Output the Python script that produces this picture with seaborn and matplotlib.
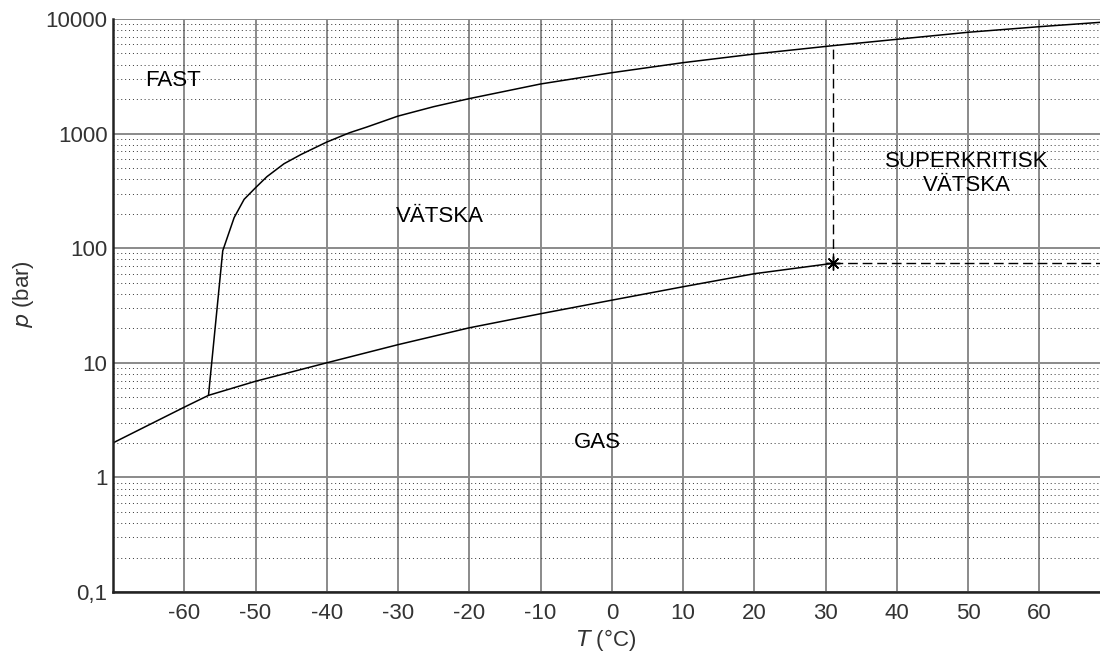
import numpy as np
import pandas as pd
import seaborn as sns
import matplotlib
matplotlib.use("Agg")
import matplotlib.pyplot as plt
from matplotlib.ticker import FixedLocator, NullLocator, LogLocator

# sublimationskurva (fast - gas)
sub_T = [-70.0, -60.0, -56.6]
sub_p = [2.0, 4.1, 5.2]

# ångtryckskurva (vätska - gas), slutar i kritiska punkten
vap_T = [-56.6, -50.0, -40.0, -30.0, -20.0, -10.0, 0.0, 10.0, 20.0, 31.0]
vap_p = [5.2, 6.9, 10.0, 14.4, 20.2, 26.8, 35.2, 46.1, 59.9, 73.8]

# smältkurva (fast - vätska)
melt_T = [-56.6, -54.6, -53.0, -51.6, -50.0, -48.4, -46.0, -43.6, -40.0, -36.8,
          -34.4, -30.0, -25.0, -20.0, -10.0, 0.0, 10.0, 20.0, 31.0, 40.0,
          50.0, 60.0, 68.5]
melt_p = [5.2, 95, 185, 267, 337, 421, 546, 658, 844, 1018,
          1140, 1422, 1718, 2020, 2710, 3400, 4160, 4950, 5850, 6650,
          7660, 8570, 9350]

# kritisk punkt
crit_T = 31.0
crit_p = 73.8

x_ticks = [-60, -50, -40, -30, -20, -10, 0, 10, 20, 30, 40, 50, 60]
y_ticks = [0.1, 1, 10, 100, 1000, 10000]
y_ticklabels = ["0,1", "1", "10", "100", "1000", "10000"]

sns.set_theme(style="white")
plt.rcParams['font.family'] = ['Liberation Sans', 'DejaVu Sans']

fig = plt.figure(figsize=(11, 6.64), dpi=100)
ax = fig.add_axes([113 / 1100, 72 / 664, 1 - 113 / 1100, (592 - 19) / 664])

ax.set_yscale("log")
ax.set_xlim(-70, 68.5)
ax.set_ylim(0.1, 10000)

# rutnät
ax.xaxis.set_major_locator(FixedLocator(x_ticks))
ax.xaxis.set_minor_locator(NullLocator())
ax.yaxis.set_major_locator(FixedLocator(y_ticks))
ax.yaxis.set_minor_locator(LogLocator(base=10, subs=np.arange(2, 10)))
ax.grid(True, which="major", color="#8a8a8a", linewidth=1.4)
ax.grid(True, which="minor", axis="y", color="#333333", linewidth=0.7,
        linestyle=(0, (1, 3)))
ax.set_axisbelow(True)

line_kw = dict(color="black", linewidth=1.1, sort=False, legend=False)
sns.lineplot(data=pd.DataFrame({"T": sub_T, "p": sub_p}), x="T", y="p", ax=ax, **line_kw)
sns.lineplot(data=pd.DataFrame({"T": vap_T, "p": vap_p}), x="T", y="p", ax=ax, **line_kw)
sns.lineplot(data=pd.DataFrame({"T": melt_T, "p": melt_p}), x="T", y="p", ax=ax, **line_kw)

# streckade gränser för superkritisk vätska
p_top = np.interp(crit_T, melt_T, melt_p)
ax.plot([crit_T, crit_T], [crit_p, p_top], color="black", linewidth=1.0,
        dashes=(7, 3.5))
ax.plot([crit_T, 68.5], [crit_p, crit_p], color="black", linewidth=1.0,
        dashes=(7, 3.5))
ax.plot([crit_T], [crit_p], marker=(8, 2, 0), markersize=10, color="black",
        markeredgewidth=1.0, linestyle="none")

# områdesetiketter
txt_kw = dict(fontsize=16, ha="center", va="center", color="black")
ax.text(-61.6, 2900, "FAST", **txt_kw)
ax.text(-24.1, 190, "VÄTSKA", **txt_kw)
ax.text(-2.0, 2.0, "GAS", **txt_kw)
ax.text(49.8, 450, "SUPERKRITISK\nVÄTSKA", linespacing=1.15, **txt_kw)

ax.set_yticklabels(y_ticklabels)
ax.set_xticklabels([str(t) for t in x_ticks])

ax.tick_params(axis="both", which="major", direction="in", length=10, width=2,
               color="#222222", labelsize=16, labelcolor="#333333", pad=8)
ax.tick_params(axis="y", which="minor", direction="in", length=6, width=1.5,
               color="#222222", labelleft=False)
ax.tick_params(axis="y", which="major", pad=4)

for side in ["top", "right"]:
    ax.spines[side].set_visible(False)
for side in ["left", "bottom"]:
    ax.spines[side].set_color("#222222")
    ax.spines[side].set_linewidth(1.8)

ax.set_xlabel(r"$\it{T}$ (°C)", fontsize=16, color="#333333", labelpad=2)
ax.set_ylabel(r"$\it{p}$ (bar)", fontsize=16, color="#333333", labelpad=3)
ax.yaxis.set_label_coords(-0.078, 0.52)

fig.savefig("out.png", dpi=100)
